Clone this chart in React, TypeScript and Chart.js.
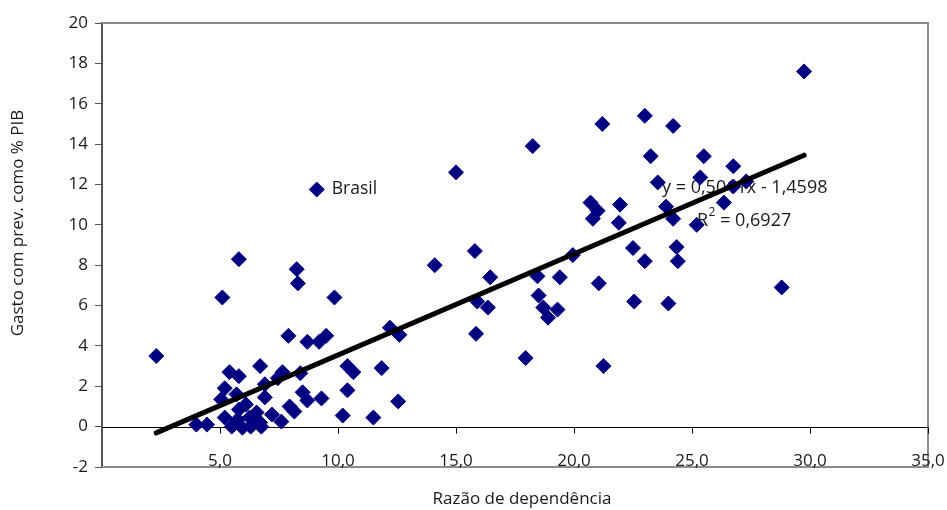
import { useEffect, useRef } from 'react';
import { Chart, registerables } from 'chart.js';

Chart.register(...registerables);

// ---- data ----
const xValues = [
  2.3, 4.0, 4.45, 5.1, 5.8, 7.9, 8.7, 9.2, 9.5, 5.4, 5.8, 6.7, 7.65, 7.45, 8.4, 6.9,
  5.2, 5.7, 5.05, 6.9, 8.5, 8.7, 7.95, 8.15, 9.3, 7.6, 7.2, 5.2, 5.8, 6.1, 5.75, 6.25,
  6.7, 5.5, 5.95, 6.3, 6.75, 6.55, 8.25, 8.3, 9.85,
  14.1, 15.8, 12.2, 12.6, 15.9, 16.35, 15.85, 10.4, 10.65, 11.85, 10.4, 12.55, 10.2, 11.5,
  21.2, 18.25, 15.0, 20.7, 21.0, 20.8, 21.95, 21.9, 22.5, 19.95, 16.45, 18.45, 19.4, 21.05,
  22.55, 18.5, 18.7, 18.9, 19.3, 17.95, 21.25,
  29.75, 23.0, 24.2, 23.25, 25.5, 26.75, 23.55, 25.35, 27.3, 26.75, 26.35, 23.9, 24.2, 25.2,
  23.0, 24.35, 24.4, 24.0, 28.8,
];
const yValues = [
  3.5, 0.1, 0.1, 6.4, 8.3, 4.5, 4.2, 4.2, 4.5, 2.7, 2.5, 3.0, 2.7, 2.4, 2.65, 2.1,
  1.9, 1.6, 1.35, 1.45, 1.7, 1.3, 1.0, 0.75, 1.4, 0.25, 0.6, 0.45, 0.85, 1.1, 0.35, 0.45,
  0.2, 0.0, -0.05, 0.0, 0.0, 0.7, 7.8, 7.1, 6.4,
  8.0, 8.7, 4.9, 4.55, 6.2, 5.9, 4.6, 3.0, 2.7, 2.9, 1.8, 1.25, 0.55, 0.45,
  15.0, 13.9, 12.6, 11.1, 10.7, 10.3, 11.0, 10.1, 8.85, 8.5, 7.4, 7.45, 7.4, 7.1,
  6.2, 6.5, 5.9, 5.4, 5.8, 3.4, 3.0,
  17.6, 15.4, 14.9, 13.4, 13.4, 12.9, 12.1, 12.35, 12.15, 11.9, 11.1, 10.9, 10.3, 10.0,
  8.2, 8.9, 8.2, 6.1, 6.9,
];
const brasilX = 9.1;
const brasilY = 11.75;
const brasilLabel = 'Brasil';

const trendX = [2.3, 29.75];
const trendY = [-0.31, 13.45];

const xTickValues = [5, 10, 15, 20, 25, 30, 35];
const xTickLabels = ['5,0', '10,0', '15,0', '20,0', '25,0', '30,0', '35,0'];
const yMin = -2;
const yMax = 20;
const yStep = 2;
const xMin = 0;
const xMax = 35;

const equationText = 'y = 0,5011x - 1,4598';
const r2Text = '0,6927';
const xTitle = 'Razão de dependência';
const yTitle = 'Gasto com prev. como % PIB';

const FONT = '"Open Sans", sans-serif';
const TEXT = '#1a1a1a';
const NAVY = '#000080';

const decorPlugin = {
  id: 'decor',
  beforeDatasetsDraw(chart: any) {
    const { ctx, chartArea: a, scales } = chart;
    const xs = scales.x;
    const ys = scales.y;
    ctx.save();
    // plot-area frame (top, right, bottom)
    ctx.strokeStyle = '#8c8c8c';
    ctx.lineWidth = 2;
    ctx.beginPath();
    ctx.moveTo(a.left, a.top);
    ctx.lineTo(a.right, a.top);
    ctx.lineTo(a.right, a.bottom);
    ctx.lineTo(a.left, a.bottom);
    ctx.stroke();
    // zero line with tick marks
    const y0 = Math.round(ys.getPixelForValue(0)) + 0.5;
    ctx.strokeStyle = '#000';
    ctx.lineWidth = 1;
    ctx.beginPath();
    ctx.moveTo(a.left, y0);
    ctx.lineTo(a.right, y0);
    for (const t of xTickValues) {
      const px = Math.round(xs.getPixelForValue(t)) + 0.5;
      ctx.moveTo(px, y0);
      ctx.lineTo(px, y0 + 6);
    }
    ctx.stroke();

    // x tick labels (sit on the bottom frame line)
    ctx.fillStyle = TEXT;
    ctx.font = `17px ${FONT}`;
    ctx.textAlign = 'center';
    ctx.textBaseline = 'alphabetic';
    xTickValues.forEach((t, i) => {
      ctx.fillText(xTickLabels[i], xs.getPixelForValue(t), a.bottom - 1);
    });

    // equation & R²
    ctx.textBaseline = 'middle';
    ctx.textAlign = 'left';
    ctx.font = `18px ${FONT}`;
    ctx.fillText(equationText, 662, 188);
    let rx = 697;
    const ry = 221;
    ctx.fillText('R', rx, ry);
    rx += ctx.measureText('R').width;
    ctx.font = `12px ${FONT}`;
    ctx.fillText('2', rx + 0.5, ry - 8);
    rx += ctx.measureText('2').width + 0.5;
    ctx.font = `18px ${FONT}`;
    ctx.fillText(' = ' + r2Text, rx, ry);

    // Brasil label
    const bx = xs.getPixelForValue(brasilX);
    const by = ys.getPixelForValue(brasilY);
    ctx.font = `17.5px ${FONT}`;
    ctx.fillText(brasilLabel, bx + 15, by);

    // axis titles
    ctx.font = `17px ${FONT}`;
    ctx.textAlign = 'center';
    ctx.fillText(xTitle, (a.left + a.right) / 2 + 7, 499);
    ctx.translate(18, 223);
    ctx.rotate(-Math.PI / 2);
    ctx.fillText(yTitle, 0, 0);
    ctx.restore();
  },
};

export default function App() {
  const canvasRef = useRef<HTMLCanvasElement | null>(null);

  useEffect(() => {
    if (!canvasRef.current) return;
    const points = xValues.map((x, i) => ({ x, y: yValues[i] }));
    points.push({ x: brasilX, y: brasilY });
    const trend = trendX.map((x, i) => ({ x, y: trendY[i] }));

    const chart = new Chart(canvasRef.current, {
      type: 'scatter',
      data: {
        datasets: [
          {
            type: 'line',
            label: 'Tendência',
            data: trend,
            borderColor: '#000',
            borderWidth: 5,
            borderCapStyle: 'round',
            pointRadius: 0,
            fill: false,
          } as any,
          {
            label: 'Países',
            data: points,
            pointStyle: 'rectRot',
            pointRadius: 7.5,
            backgroundColor: NAVY,
            borderColor: NAVY,
            borderWidth: 1,
          },
        ],
      },
      options: {
        animation: false,
        responsive: true,
        maintainAspectRatio: false,
        events: [],
        layout: { padding: { top: 23, right: 19, left: 0, bottom: 0 } },
        plugins: {
          legend: { display: false },
          tooltip: { enabled: false },
        },
        scales: {
          x: {
            type: 'linear',
            min: xMin,
            max: xMax,
            grid: { display: false, drawTicks: false },
            border: { display: false },
            ticks: { display: false, stepSize: 5 },
            afterFit: (s: any) => {
              s.height = 43;
            },
          },
          y: {
            type: 'linear',
            min: yMin,
            max: yMax,
            grid: {
              display: true,
              drawOnChartArea: false,
              drawTicks: true,
              tickLength: 7,
              color: '#555',
              lineWidth: 1,
            },
            border: { display: true, color: '#555', width: 2 },
            ticks: {
              stepSize: yStep,
              padding: 7,
              color: TEXT,
              font: { family: FONT, size: 17 },
              callback: (v: any) => String(v),
            },
            afterFit: (s: any) => {
              s.width = 102;
            },
          },
        },
      },
      plugins: [decorPlugin],
    });
    return () => chart.destroy();
  }, []);

  return (
    <div style={{ position: 'fixed', left: 0, top: 0, width: 947, height: 510, background: '#fff' }}>
      <canvas ref={canvasRef} />
    </div>
  );
}
